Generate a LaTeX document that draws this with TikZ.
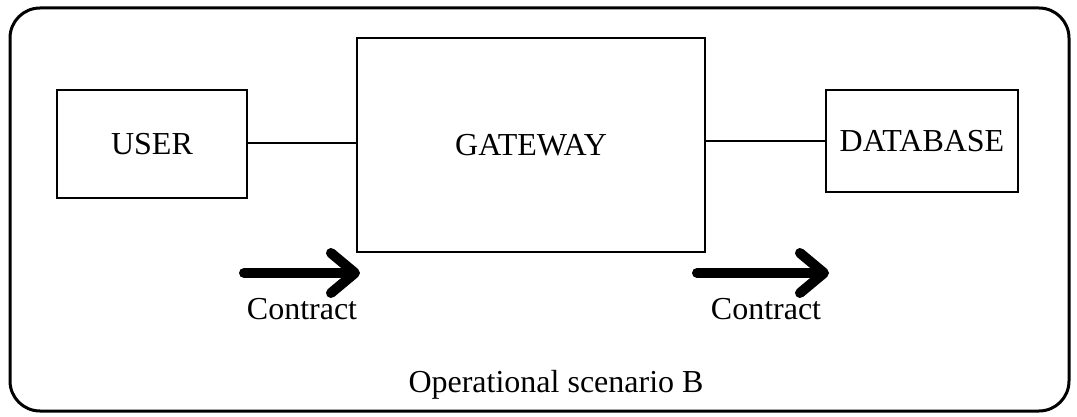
\documentclass[tikz,border=0pt]{standalone}
\usepackage{fontspec}
\setmainfont{Liberation Serif}
\usetikzlibrary{arrows.meta,positioning}

\begin{document}
\begin{tikzpicture}[x=0.5pt, y=-0.5pt, every node/.style={font={\fontsize{16}{19}\selectfont}},
                    unit/.style={draw, line width=1pt, inner sep=0pt},
                    link/.style={line width=0.8pt},
                    flow/.style={line width=5pt, line cap=round, -{Straight Barb[length=12pt, width=20pt, round]}}]
                     \useasboundingbox (0,0) rectangle (1077,417);
                     \draw[line width=1.5pt, rounded corners=15pt] (10,8) rectangle (1069,411);

                     \node[unit, minimum width=95pt, minimum height=54pt] at (152,144) (user) {USER};
                     \node[unit, minimum width=174pt, minimum height=107pt] at (531,145) (gateway) {GATEWAY};
                     \node[unit, minimum width=96pt, minimum height=51pt] at (922,141) (database) {DATABASE};
                         \draw[link] (user.east |- 0,143) -- (gateway.west |- 0,143);
                         \draw[link] (gateway.east |- 0,141) -- (database.west |- 0,141);

                     \coordinate (c1s) at (244,273);
                     \coordinate (c1e) at (360,273);
                     \coordinate (c2s) at (697,273);
                     \coordinate (c2e) at (829,273);
                         \draw[flow] (c1s) -- (c1e);
                         \draw[flow] (c2s) -- (c2e);
                     \node at (302,309) (contract1) {Contract};
                     \node at (766,309) (contract2) {Contract};

                     \node at (556,385) (caption) {Operational scenario B};
                 \end{tikzpicture}
\end{document}
